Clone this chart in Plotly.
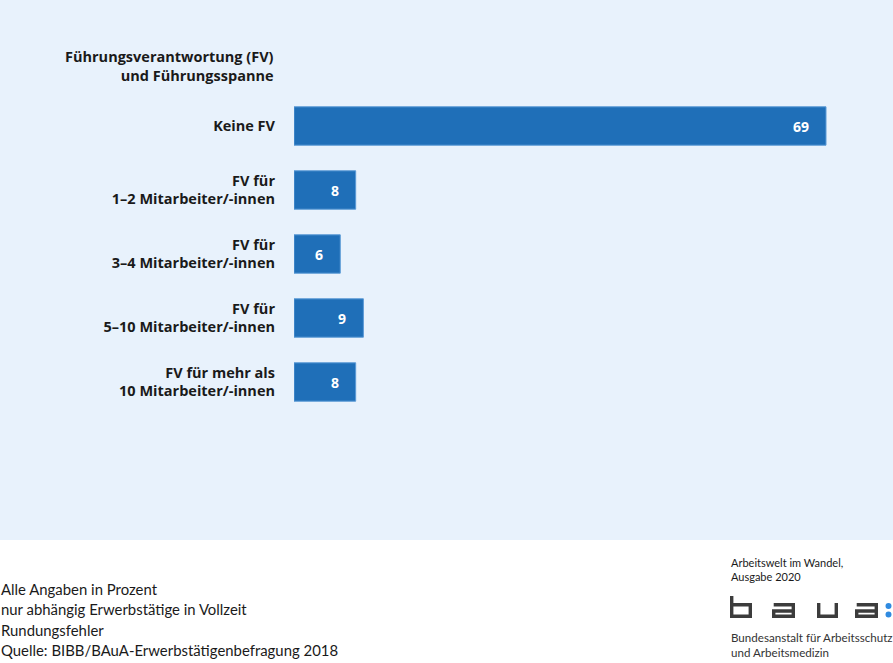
import plotly.graph_objects as go

header = "Führungsverantwortung (FV)<br>und Führungsspanne"
categories = [
    "Keine FV",
    "FV für<br>1–2 Mitarbeiter/-innen",
    "FV für<br>3–4 Mitarbeiter/-innen",
    "FV für<br>5–10 Mitarbeiter/-innen",
    "FV für mehr als<br>10 Mitarbeiter/-innen",
]
values = [69, 8, 6, 9, 8]

footer_lines = [
    "Alle Angaben in Prozent",
    "nur abhängig Erwerbstätige in Vollzeit",
    "Rundungsfehler",
    "Quelle: BIBB/BAuA-Erwerbstätigenbefragung 2018",
]

W, H = 893, 663
L, R, T, B = 294, 20, 30, 249
pw, ph = W - L - R, H - T - B

BAR = "#1f6fb8"
BG = "#e8f2fc"
FONT = "Open Sans"
FONT2 = "Lato"

all_cats = ["__header__"] + categories
all_vals = [None] + values

fig = go.Figure()
fig.add_trace(go.Bar(
    y=all_cats, x=all_vals, orientation="h",
    marker=dict(color=BAR, line=dict(color="#5a9ad6", width=1)),
    hoverinfo="skip",
))

for c, v in zip(categories, values):
    fig.add_annotation(x=v, y=c, xref="x", yref="y", text=f"<b>{v}</b>",
                       showarrow=False, xanchor="right", xshift=-15,
                       font=dict(family=FONT, size=14, color="white"))


def px2x(p):
    return (p - L) / pw


def py2y(p):
    return (H - B - p) / ph


# background panel
fig.add_shape(type="rect", xref="paper", yref="paper",
              x0=px2x(0), x1=px2x(W), y0=py2y(540), y1=py2y(0),
              fillcolor=BG, line=dict(width=0), layer="below")

# header label
fig.add_annotation(xref="paper", yref="paper", x=px2x(276), y=py2y(66),
                   text="<b>" + header + "</b>", showarrow=False, xanchor="right",
                   yanchor="middle", align="right",
                   font=dict(family=FONT, size=14.5, color="#1a1a1a"))

# footer
for i, line in enumerate(footer_lines):
    fig.add_annotation(xref="paper", yref="paper", x=px2x(-1), y=py2y(589 + i * 20.3),
                       text=line, showarrow=False, xanchor="left", yanchor="middle",
                       font=dict(family=FONT2, size=14.9, color="#1a1a1a"))

fig.add_annotation(xref="paper", yref="paper", x=px2x(729), y=py2y(569),
                   text="Arbeitswelt im Wandel,<br>Ausgabe 2020", showarrow=False,
                   xanchor="left", yanchor="middle", align="left",
                   font=dict(family=FONT2, size=11, color="#1a1a1a"))
fig.add_annotation(xref="paper", yref="paper", x=px2x(729), y=py2y(645),
                   text="Bundesanstalt für Arbeitsschutz<br>und Arbeitsmedizin", showarrow=False,
                   xanchor="left", yanchor="middle", align="left",
                   font=dict(family=FONT2, size=11.6, color="#333333"))

# logo "baua:" drawn as strokes
LOGO = "#3c3c3c"
sw = 3.4
top, xh, bot = 596, 603, 618
h = sw / 2


def path(pts):
    return "M " + " L ".join(f"{px2x(x):.5f},{py2y(y):.5f}" for x, y in pts)


def letter_a(x0, x1):
    mid = (xh + bot) / 2 + 0.5
    return [(x0 + h, xh + h), (x1 - h, xh + h), (x1 - h, bot - h), (x0 + h, bot - h),
            (x0 + h, mid), (x1 - h, mid)]


letters = [
    [(730 + h, top), (730 + h, bot - h), (752 - h, bot - h), (752 - h, xh + h), (730 + h, xh + h)],
    letter_a(772, 795),
    [(817 + h, xh), (817 + h, bot - h), (838 - h, bot - h), (838 - h, xh)],
    letter_a(855, 878),
]
for pts in letters:
    fig.add_shape(type="path", xref="paper", yref="paper", path=path(pts),
                  line=dict(color=LOGO, width=sw))

for cy in (606, 614.5):
    fig.add_shape(type="circle", xref="paper", yref="paper",
                  x0=px2x(885.5), x1=px2x(891.5), y0=py2y(cy + 3), y1=py2y(cy - 3),
                  fillcolor="#2f8ae0", line=dict(width=0))

fig.update_layout(
    width=W, height=H,
    margin=dict(l=L, r=R, t=T, b=B),
    paper_bgcolor="white", plot_bgcolor="rgba(0,0,0,0)",
    bargap=0.4, showlegend=False,
    font=dict(family=FONT, size=14, color="#1a1a1a"),
    xaxis=dict(range=[0, pw / 7.71], visible=False, fixedrange=True),
    yaxis=dict(autorange="reversed", showgrid=False, zeroline=False, showline=False,
               ticks="", ticklabelstandoff=18, fixedrange=True,
               tickmode="array", tickvals=all_cats, ticktext=[""] + categories,
               tickfont=dict(family=FONT, size=14.5, color="#1a1a1a", weight="bold")),
)

fig.write_html("out.html")
